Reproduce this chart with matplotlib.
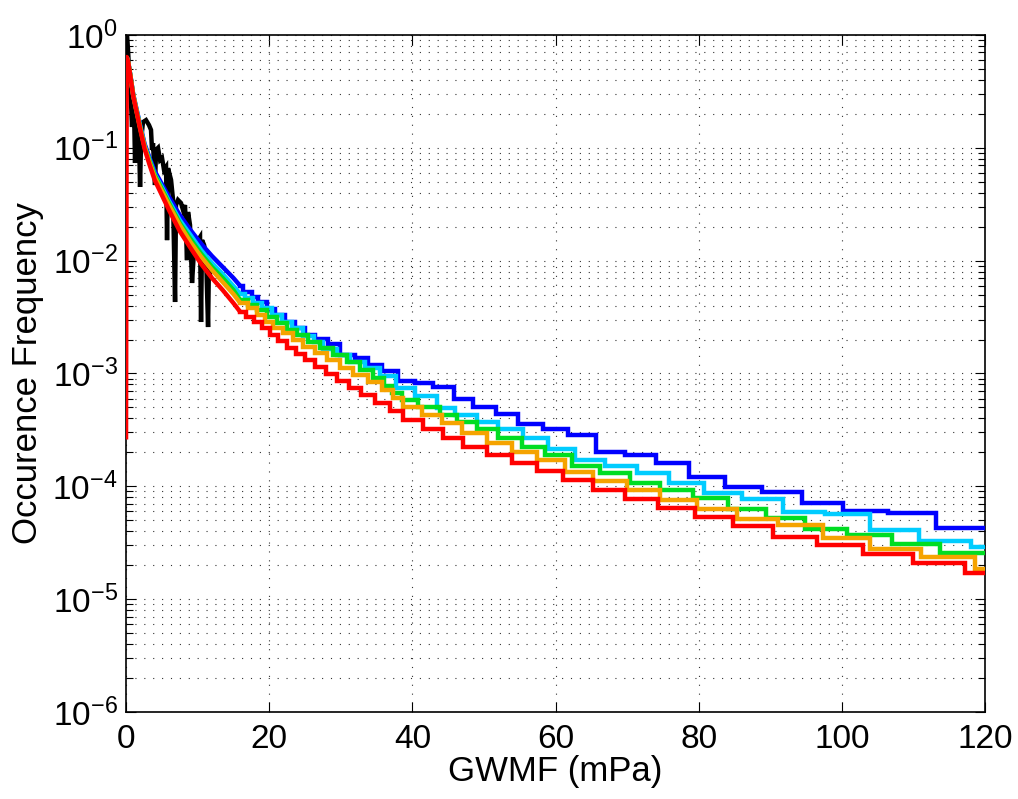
import math
import matplotlib
matplotlib.use("Agg")
import matplotlib.pyplot as plt
from matplotlib.ticker import FixedLocator, LogLocator, NullFormatter, FuncFormatter

plt.rcParams['font.family'] = ['Liberation Sans', 'DejaVu Sans']
plt.rcParams['mathtext.fontset'] = 'custom'
plt.rcParams['mathtext.rm'] = 'Liberation Sans'
plt.rcParams['mathtext.it'] = 'Liberation Sans:italic'
plt.rcParams['mathtext.bf'] = 'Liberation Sans:bold'

# ---------------- data (GWMF in mPa, occurrence frequency) ----------------
# smooth low-GWMF part: shared x grid
grid_x = [0.1, 0.3, 0.6, 1.0, 1.5, 2.0, 2.6, 3.3, 4.0, 5.0, 6.0, 7.5, 9.0, 10.5, 12.0, 13.5, 15.0]

blue_smooth = [0.638, 0.576, 0.442, 0.300, 0.216, 0.156, 0.108, 0.0813, 0.0623, 0.0478, 0.0367, 0.0254,
               0.0187, 0.0141, 0.0110, 0.00879, 0.00702]
cyan_smooth = [0.638, 0.576, 0.442, 0.294, 0.212, 0.153, 0.104, 0.0780, 0.0586, 0.0450, 0.0338, 0.0229,
               0.0169, 0.0124, 0.00953, 0.00762, 0.00596]
green_smooth = [0.638, 0.576, 0.442, 0.294, 0.208, 0.150, 0.102, 0.0764, 0.0574, 0.0432, 0.0324, 0.0216,
                0.0156, 0.0115, 0.00879, 0.00702, 0.00549]
orange_smooth = [0.638, 0.576, 0.433, 0.294, 0.208, 0.147, 0.102, 0.0734, 0.0551, 0.0414, 0.0311, 0.0207,
                 0.0146, 0.0108, 0.00826, 0.00647, 0.00506]
red_smooth = [0.638, 0.576, 0.433, 0.288, 0.204, 0.144, 0.0976, 0.0704, 0.0519, 0.0382, 0.0281,
              0.0183, 0.0130, 0.00934, 0.00702, 0.00549, 0.00421]
red_start_x = 0.0
red_start_y = 2.6e-4

# stepped part (bin left edges and values)
blue_x = [15.93, 16.34, 17.60, 18.44, 19.70, 20.81, 22.21, 23.61, 25.01, 26.40, 28.22, 29.90,
          31.99, 33.81, 35.76, 38.00, 40.37, 42.89, 45.82, 48.47, 51.69, 54.76, 58.25, 61.75,
          65.66, 69.71, 74.04, 78.65, 83.68, 88.85, 94.44, 100.16, 106.45, 113.15]
blue_y = [6.0e-3, 5.31e-3, 4.80e-3, 4.33e-3, 3.76e-3, 3.32e-3, 2.88e-3, 2.55e-3, 2.21e-3, 2.04e-3,
          1.84e-3, 1.47e-3, 1.38e-3, 1.20e-3, 1.06e-3, 8.6e-4, 8.2e-4, 7.6e-4, 5.9e-4, 5.05e-4,
          4.4e-4, 3.6e-4, 3.2e-4, 2.85e-4, 2.0e-4, 1.9e-4, 1.6e-4, 1.2e-4, 9.8e-5, 8.9e-5, 7.1e-5,
          6.1e-5, 5.8e-5, 4.3e-5]

cyan_x = [15.93, 16.62, 17.74, 19.00, 20.40, 21.79, 23.19, 24.73, 26.26, 27.52, 29.48, 31.29,
          33.39, 35.48, 37.72, 40.37, 43.45, 45.96, 49.03, 51.97, 55.46, 58.95, 62.72, 66.91,
          71.39, 75.86, 80.74, 86.05, 91.78, 97.65, 103.93, 110.78, 118.04]
cyan_y = [5.1e-3, 4.7e-3, 4.24e-3, 3.83e-3, 3.32e-3, 2.88e-3, 2.55e-3, 2.16e-3, 1.91e-3, 1.66e-3,
          1.47e-3, 1.27e-3, 1.13e-3, 9.5e-4, 7.4e-4, 6.3e-4, 4.95e-4, 4.3e-4, 3.7e-4, 3.2e-4,
          2.7e-4, 2.14e-4, 1.71e-4, 1.52e-4, 1.31e-4, 1.07e-4, 8.7e-5, 7.7e-5, 5.9e-5, 5.65e-5,
          4.1e-5, 3.3e-5, 2.9e-5]

green_x = [15.93, 17.04, 18.30, 19.70, 21.09, 22.49, 23.89, 25.42, 27.10, 28.92, 30.87, 32.69,
           34.50, 36.04, 37.16, 38.56, 40.79, 43.86, 46.24, 49.03, 51.97, 55.32, 58.53, 62.30,
           66.22, 70.41, 74.60, 79.21, 84.10, 89.41, 94.85, 100.72, 107.01, 113.71]
green_y = [4.5e-3, 4.07e-3, 3.68e-3, 3.19e-3, 2.82e-3, 2.45e-3, 2.21e-3, 1.91e-3, 1.69e-3, 1.47e-3,
           1.27e-3, 1.08e-3, 9.1e-4, 7.75e-4, 6.7e-4, 5.8e-4, 5.05e-4, 4.3e-4, 3.7e-4, 3.2e-4,
           2.7e-4, 2.23e-4, 1.9e-4, 1.52e-4, 1.31e-4, 1.07e-4, 9.2e-5, 7.8e-5, 6.3e-5, 5.2e-5,
           4.2e-5, 3.7e-5, 3.06e-5, 2.55e-5]

orange_x = [15.93, 17.04, 18.30, 19.42, 20.54, 21.93, 23.33, 24.73, 26.40, 28.08, 29.90, 31.71,
            33.81, 35.76, 37.30, 38.70, 41.35, 44.14, 46.94, 50.43, 53.92, 57.42, 61.33, 65.24,
            69.99, 74.60, 79.77, 85.35, 91.08, 97.37, 103.93, 111.06, 118.60]
orange_y = [4.24e-3, 3.83e-3, 3.32e-3, 2.88e-3, 2.55e-3, 2.30e-3, 2.00e-3, 1.73e-3, 1.53e-3, 1.33e-3,
            1.13e-3, 9.7e-4, 8.4e-4, 7.1e-4, 6.1e-4, 5.05e-4, 4.3e-4, 3.64e-4, 2.97e-4, 2.42e-4,
            2.02e-4, 1.71e-4, 1.34e-4, 1.11e-4, 9.2e-5, 7.5e-5, 6.3e-5, 5.1e-5, 4.5e-5, 3.46e-5,
            2.76e-5, 2.35e-5, 1.84e-5]

red_x = [15.93, 16.76, 17.88, 19.00, 20.12, 21.23, 22.49, 23.75, 25.01, 26.40, 27.94,
         29.48, 31.15, 32.83, 34.78, 36.88, 38.70, 41.49, 44.28, 47.08, 50.43, 53.92,
         57.42, 61.05, 65.24, 69.71, 74.32, 79.49, 84.80, 90.38, 96.53, 102.96,
         109.94, 117.21]
red_y = [3.53e-3, 3.19e-3, 2.88e-3, 2.55e-3, 2.21e-3, 1.95e-3, 1.69e-3, 1.50e-3, 1.33e-3, 1.15e-3,
         9.9e-4, 8.6e-4, 7.4e-4, 6.45e-4, 5.5e-4, 4.65e-4, 3.87e-4, 3.22e-4, 2.68e-4, 2.23e-4,
         1.9e-4, 1.61e-4, 1.37e-4, 1.14e-4, 9.2e-5, 7.67e-5, 6.38e-5, 5.31e-5, 4.42e-5, 3.53e-5,
         3.0e-5, 2.5e-5, 2.08e-5, 1.69e-5]

black_x = [0.14, 0.28, 0.42, 0.56, 0.70, 0.84, 0.98, 1.12, 1.26, 1.40, 1.54, 1.82, 1.96, 2.10, 2.37,
           2.79, 3.21, 3.49, 3.63, 3.77, 4.05, 4.19, 4.47, 4.75, 5.03, 5.31, 5.59, 5.73, 5.87, 6.29,
           6.57, 6.85, 6.98, 7.26, 7.68, 7.96, 8.24, 8.52, 8.66, 8.94, 9.22, 9.50, 9.78, 10.06,
           10.34, 10.48, 10.62, 10.90, 11.18, 11.46, 11.59, 11.73]
black_y = [1.0, 0.736, 0.490, 0.325, 0.250, 0.153, 0.265, 0.216, 0.0734, 0.176, 0.159, 0.117, 0.0450,
           0.117, 0.169, 0.176, 0.159, 0.144, 0.0957, 0.110, 0.0468, 0.096, 0.100, 0.0780, 0.0813,
           0.0636, 0.0676, 0.0152, 0.066, 0.0519, 0.0345, 0.0043, 0.0311, 0.0345, 0.0324, 0.0281,
           0.0311, 0.0101, 0.0270, 0.0207, 0.00634, 0.0124, 0.0138, 0.0152, 0.0162, 0.00286, 0.0152,
           0.0138, 0.0112, 0.00258, 0.0101, 0.00746]

x_max = 120
x_ticks = [0, 20, 40, 60, 80, 100, 120]
y_ticks = [1e-6, 1e-5, 1e-4, 1e-3, 1e-2, 1e-1, 1e0]

series = [
    (grid_x, blue_smooth, blue_x, blue_y, '#0000ff'),
    (grid_x, cyan_smooth, cyan_x, cyan_y, '#00ccff'),
    (grid_x, green_smooth, green_x, green_y, '#00dd22'),
    (grid_x, orange_smooth, orange_x, orange_y, '#f5a300'),
    ([red_start_x] + grid_x, [red_start_y] + red_smooth, red_x, red_y, '#ff0000'),
]

# ---------------- figure ----------------
fig = plt.figure(figsize=(10.18, 7.99), dpi=100)
ax = fig.add_axes([0.1238, 0.1089, 0.8438, 0.8473])

LW = 3.2
ax.plot(black_x, black_y, color='black', lw=LW, zorder=2, solid_joinstyle='miter')
for sx, sy, xs, ys, c in series:
    ax.plot(list(sx) + [xs[0]], list(sy) + [ys[0]], color=c, lw=LW, zorder=3,
            solid_capstyle='butt')
    ax.step(list(xs) + [x_max], list(ys) + [ys[-1]], where='post', color=c, lw=LW, zorder=3,
            solid_joinstyle='miter')

ax.set_yscale('log')
ax.set_xlim(0, 120)
ax.set_ylim(1e-6, 1)
ax.xaxis.set_major_locator(FixedLocator(x_ticks))
ax.yaxis.set_major_locator(FixedLocator(y_ticks))
ax.yaxis.set_minor_locator(LogLocator(base=10, subs=range(2, 10), numticks=20))
ax.yaxis.set_minor_formatter(NullFormatter())
ax.yaxis.set_major_formatter(FuncFormatter(
    lambda v, p: r'$\mathregular{10^{%d}}$' % round(math.log10(v))))

ax.tick_params(which='both', direction='in', top=True, right=True, labelsize=24, width=0.8)
ax.tick_params(which='major', length=7)
ax.tick_params(which='minor', length=5)
ax.tick_params(axis='x', pad=9)
ax.tick_params(axis='y', pad=6)

grid_kw = dict(color='0.2', linestyle=(0, (1, 7)), linewidth=0.8)
ax.grid(True, which='major', axis='both', **grid_kw)
ax.grid(True, which='minor', axis='y', **grid_kw)
ax.set_axisbelow(True)

for s in ax.spines.values():
    s.set_linewidth(1.2)

ax.set_xlabel('GWMF (mPa)', fontsize=25, labelpad=0)
ax.set_ylabel('Occurence Frequency', fontsize=25, labelpad=6)

fig.savefig('out.png', dpi=100)
